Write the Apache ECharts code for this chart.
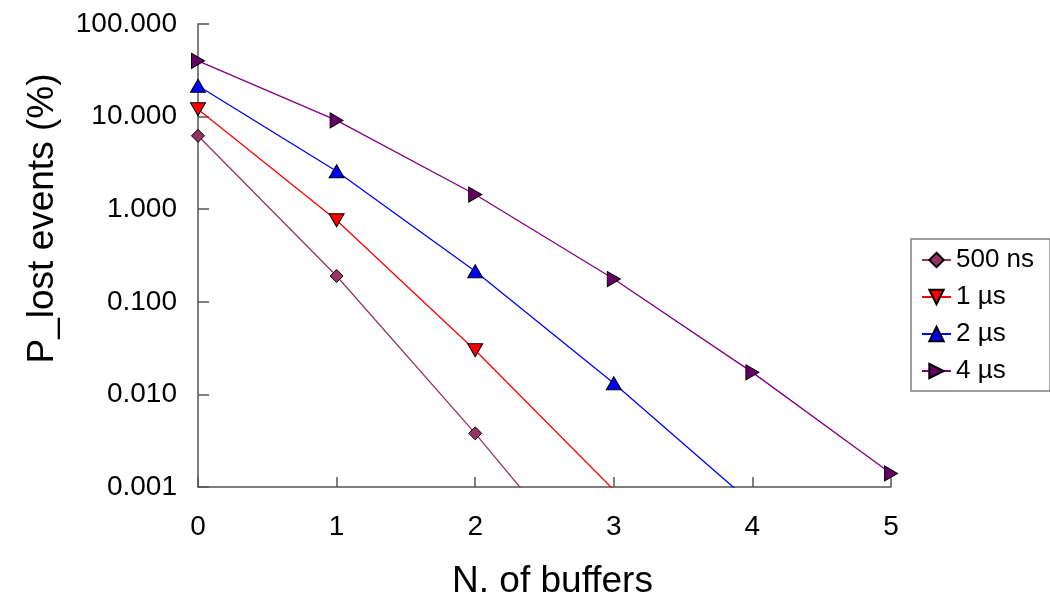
<!DOCTYPE html>
<html>
<head>
<meta charset="utf-8">
<script src="https://cdn.jsdelivr.net/npm/echarts@6/dist/echarts.min.js"></script>
<style>html,body{margin:0;padding:0;background:#fff}#c{width:1050px;height:605px}</style>
</head>
<body>
<div id="c"></div>
<script>
var seriesNames = ['500 ns', '1 \u00b5s', '2 \u00b5s', '4 \u00b5s'];
var buffers = [0, 1, 2, 3, 4, 5];
var v500ns = [6.2, 0.19, 0.0038, 0.00006];
var v1us = [12, 0.76, 0.030, 0.00093];
var v2us = [21.5, 2.57, 0.214, 0.0132, 0.00066];
var v4us = [40, 9.1, 1.44, 0.176, 0.0173, 0.0014];

function pts(vals){ return vals.map(function(v,i){ return [buffers[i], v]; }); }

var font = 'Liberation Sans, Arial, sans-serif';
var chart = echarts.init(document.getElementById('c'), null, {renderer:'canvas'});
var common = {type:'line', clip:true, emphasis:{disabled:true}};
chart.setOption({
  animation:false,
  backgroundColor:'#fff',
  grid:{left:198, right:159, top:24, bottom:115, containLabel:false},
  legend:{
    orient:'vertical', left:911, top:239,
    padding:[8,16,7,10], itemGap:11, itemWidth:29, itemHeight:18,
    borderColor:'#808080', borderWidth:1.5, backgroundColor:'#fff',
    textStyle:{fontFamily:font, fontSize:26, color:'#000'},
    data:seriesNames
  },
  xAxis:{
    type:'value', min:0, max:5, interval:1,
    name:'N. of buffers', nameLocation:'middle', nameGap:76,
    nameTextStyle:{fontFamily:font, fontSize:37, color:'#000', padding:[0,0,0,16]},
    axisLine:{show:true, lineStyle:{color:'#555', width:1.5}},
    axisTick:{show:true, inside:true, length:10, lineStyle:{color:'#555', width:1.5}},
    axisLabel:{fontFamily:font, fontSize:28, color:'#000', margin:26},
    splitLine:{show:false}
  },
  yAxis:{
    type:'log', logBase:10, min:0.001, max:100,
    name:'P_lost events (%)', nameLocation:'middle', nameGap:137,
    nameTextStyle:{fontFamily:font, fontSize:37, color:'#000', padding:[0,0,0,74]},
    axisLine:{show:true, lineStyle:{color:'#555', width:1.5}},
    axisTick:{show:true, inside:true, length:11, lineStyle:{color:'#555', width:1.5}},
    axisLabel:{fontFamily:font, fontSize:28, color:'#000', margin:21, padding:[6,0,0,0],
      formatter:function(v){ return Number(v).toFixed(3); }},
    splitLine:{show:false}
  },
  series:[
    Object.assign({}, common, {name:seriesNames[0], data:pts(v500ns), symbol:'diamond', symbolSize:13,
      itemStyle:{color:'#993366', borderColor:'#000', borderWidth:1}, lineStyle:{color:'#993366', width:1.3}}),
    Object.assign({}, common, {name:seriesNames[1], data:pts(v1us), symbol:'triangle', symbolRotate:180, symbolSize:[15,13],
      itemStyle:{color:'#ff0000', borderColor:'#000', borderWidth:1}, lineStyle:{color:'#ff0000', width:1.3}}),
    Object.assign({}, common, {name:seriesNames[2], data:pts(v2us), symbol:'triangle', symbolSize:[15,13],
      itemStyle:{color:'#0000ff', borderColor:'#000', borderWidth:1}, lineStyle:{color:'#0000ff', width:1.3}}),
    Object.assign({}, common, {name:seriesNames[3], data:pts(v4us), symbol:'triangle', symbolRotate:-90, symbolSize:[15,13],
      itemStyle:{color:'#660066', borderColor:'#000', borderWidth:1}, lineStyle:{color:'#800080', width:1.3}})
  ]
});
</script>
</body>
</html>
